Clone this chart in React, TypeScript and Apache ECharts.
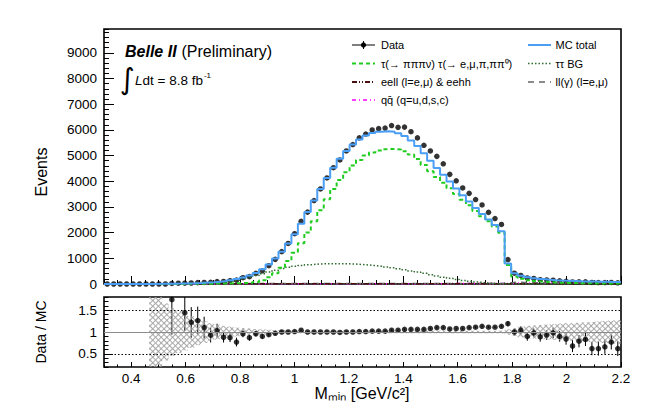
import React, { useEffect, useRef } from "react";
import * as echarts from "echarts";

// ---------- axis definitions ----------
const X_MIN = 0.3;
const X_MAX = 2.2;
const N_BINS = 80;
const Y_MAX = 9930;
const R_MIN = 0.2;
const R_MAX = 1.8;
const X_LABELS = [0.4, 0.6, 0.8, 1, 1.2, 1.4, 1.6, 1.8, 2, 2.2];
const Y_LABELS = [0, 1000, 2000, 3000, 4000, 5000, 6000, 7000, 8000, 9000];
const R_LABELS = [0.5, 1, 1.5];

// ---------- histogram contents (80 bins, 0.3 - 2.2) ----------
const MC_TOTAL = [
  0, 0, 0, 0, 0, 0, 2, 3, 5, 8,
  12, 17, 24, 32, 42, 55, 70, 90, 115, 150,
  195, 255, 330, 430, 570, 760, 990, 1260, 1580, 1940,
  2350, 2800, 3250, 3700, 4130, 4530, 4880, 5180, 5430, 5630,
  5780, 5880, 5930, 5950, 5930, 5870, 5760, 5590, 5370, 5090,
  4800, 4520, 4250, 3990, 3720, 3460, 3210, 2960, 2730, 2510,
  2300, 2050, 800, 420, 320, 260, 220, 190, 170, 150,
  135, 125, 115, 105, 100, 95, 90, 85, 80, 75,
];

const DATA = [
  0, 0, 0, 0, 0, 0, 0, 0, 0, 0,
  21, 30, 35, 39, 53, 60, 65, 93, 101, 130,
  150, 245, 287, 413, 513, 714, 960, 1260, 1580, 1960,
  2440, 2800, 3250, 3700, 4130, 4530, 4830, 5180, 5430, 5690,
  5840, 6000, 6050, 6070, 6170, 6100, 6110, 5930, 5690, 5400,
  5180, 4970, 4680, 4270, 4020, 3740, 3530, 3290, 3080, 2790,
  2550, 2320, 950, 420, 333, 234, 216, 169, 158, 147,
  122, 105, 78, 83, 83, 59, 56, 56, 62, 47,
];

const SIGNAL = [
  0, 0, 0, 0, 0, 0, 0, 0, 0, 0,
  2, 3, 5, 6, 8, 10, 14, 18, 22, 25,
  30, 40, 50, 80, 145, 265, 420, 630, 895, 1215,
  1590, 2010, 2440, 2875, 3300, 3700, 4050, 4355, 4615, 4830,
  5000, 5125, 5200, 5250, 5260, 5235, 5165, 5040, 4865, 4635,
  4395, 4165, 3945, 3730, 3500, 3280, 3065, 2845, 2640, 2440,
  2240, 2000, 740, 290, 200, 150, 115, 90, 72, 58,
  48, 42, 36, 32, 28, 25, 22, 20, 18, 16,
];

const TAUTAU_BG = [
  0, 0, 0, 0, 0, 0, 0, 0, 0, 0,
  3, 5, 8, 12, 18, 26, 37, 52, 72, 105,
  150, 200, 260, 330, 400, 470, 540, 600, 650, 690,
  720, 750, 770, 785, 790, 790, 790, 785, 775, 760,
  740, 715, 690, 660, 630, 595, 555, 510, 465, 415,
  365, 315, 265, 220, 180, 140, 105, 75, 50, 30,
  18, 10, 5, 3, 2, 2, 1, 1, 1, 1,
  0, 0, 0, 0, 0, 0, 0, 0, 0, 0,
];

const EELL = [
  0, 0, 0, 0, 0, 0, 1, 1, 1, 2,
  2, 2, 3, 3, 3, 4, 4, 5, 5, 6,
  6, 7, 7, 8, 8, 9, 9, 10, 10, 11,
  11, 12, 12, 12, 13, 13, 13, 13, 13, 13,
  13, 13, 13, 13, 12, 12, 12, 12, 11, 11,
  11, 10, 10, 10, 9, 9, 9, 8, 8, 8,
  7, 7, 6, 6, 6, 5, 5, 5, 5, 4,
  4, 4, 4, 4, 3, 3, 3, 3, 3, 3,
];

const LL_GAMMA = [
  0, 0, 0, 0, 0, 0, 1, 1, 2, 3,
  4, 5, 6, 7, 8, 9, 10, 11, 12, 13,
  14, 15, 16, 17, 18, 18, 19, 19, 20, 20,
  20, 21, 21, 21, 21, 21, 21, 21, 21, 21,
  21, 20, 20, 20, 20, 20, 20, 19, 19, 19,
  19, 18, 18, 18, 18, 17, 17, 17, 17, 17,
  16, 16, 50, 70, 60, 52, 48, 45, 42, 40,
  38, 36, 34, 32, 31, 30, 29, 28, 27, 26,
];

const QQBAR = [
  0, 0, 0, 0, 0, 0, 1, 1, 1, 1,
  2, 2, 2, 3, 3, 3, 4, 4, 5, 5,
  6, 6, 7, 7, 8, 8, 9, 9, 10, 10,
  10, 11, 11, 11, 12, 12, 12, 12, 13, 13,
  13, 13, 13, 13, 13, 13, 14, 14, 14, 14,
  14, 14, 14, 15, 15, 15, 15, 15, 15, 15,
  15, 15, 20, 35, 36, 36, 36, 35, 35, 34,
  34, 33, 33, 32, 32, 31, 31, 30, 30, 29,
];

// ---------- ratio panel ----------
const RATIO = [
  null, null, null, null, null, null, null, null, null, null,
  1.74, null, 1.44, 1.22, 1.26, 1.10, 0.93, 1.03, 0.88, 0.87,
  0.77, 0.96, 0.87, 0.96, 0.90, 0.94, 0.97, 1.00, 1.00, 1.01,
  1.04, 1.00, 1.00, 1.00, 1.00, 1.00, 0.99, 1.00, 1.00, 1.01,
  1.01, 1.02, 1.02, 1.02, 1.04, 1.04, 1.06, 1.06, 1.06, 1.06,
  1.08, 1.10, 1.10, 1.07, 1.08, 1.08, 1.10, 1.11, 1.13, 1.11,
  1.11, 1.13, 1.19, 1.00, 1.04, 0.90, 0.98, 0.89, 0.93, 0.98,
  0.90, 0.84, 0.68, 0.79, 0.83, 0.62, 0.62, 0.66, 0.77, 0.62,
];

const RATIO_ERR = [
  null, null, null, null, null, null, null, null, null, null,
  0.8, null, 0.42, 0.35, 0.32, 0.25, 0.17, 0.16, 0.12, 0.10,
  0.10, 0.08, 0.07, 0.06, 0.05, 0.04, 0.035, 0.03, 0.025, 0.02,
  0.02, 0.02, 0.02, 0.02, 0.02, 0.02, 0.02, 0.02, 0.02, 0.02,
  0.02, 0.02, 0.02, 0.02, 0.02, 0.02, 0.02, 0.02, 0.02, 0.02,
  0.02, 0.02, 0.02, 0.02, 0.02, 0.02, 0.02, 0.02, 0.02, 0.02,
  0.02, 0.02, 0.06, 0.08, 0.09, 0.10, 0.10, 0.11, 0.11, 0.12,
  0.12, 0.13, 0.14, 0.14, 0.15, 0.15, 0.16, 0.16, 0.17, 0.17,
];

const MC_REL_ERR = [
  null, null, null, null, null, null, null, 0.85, 0.8, 0.65,
  0.55, 0.48, 0.42, 0.36, 0.3, 0.25, 0.2, 0.17, 0.14, 0.12,
  0.1, 0.09, 0.08, 0.07, 0.06, 0.05, 0.045, 0.04, 0.035, 0.03,
  0.03, 0.03, 0.03, 0.03, 0.03, 0.03, 0.03, 0.03, 0.03, 0.03,
  0.03, 0.03, 0.03, 0.03, 0.03, 0.03, 0.03, 0.03, 0.03, 0.03,
  0.03, 0.03, 0.03, 0.03, 0.03, 0.03, 0.03, 0.03, 0.03, 0.03,
  0.03, 0.03, 0.06, 0.09, 0.12, 0.14, 0.15, 0.16, 0.17, 0.18,
  0.19, 0.2, 0.2, 0.21, 0.22, 0.23, 0.24, 0.25, 0.26, 0.27,
];

// ---------- derived bin geometry ----------
const BIN_W = (X_MAX - X_MIN) / N_BINS;
const EDGES = Array.from({ length: N_BINS + 1 }, (_, i) => X_MIN + i * BIN_W);
const CENTERS = EDGES.slice(0, N_BINS).map((e) => e + BIN_W / 2);
const CATS = CENTERS.map((c) => c.toFixed(4));

function stepData(vals: number[]) {
  const d: number[][] = vals.map((v, i) => [EDGES[i], v]);
  d.push([X_MAX, vals[N_BINS - 1]]);
  return d;
}

const FONT = '"Liberation Sans", Arial, Helvetica, sans-serif';

function histLine(name: string, vals: number[], color: string, width: number, type: any) {
  return {
    name,
    type: "line",
    xAxisIndex: 0,
    yAxisIndex: 0,
    step: "end",
    symbol: "none",
    silent: true,
    data: stepData(vals),
    lineStyle: { color, width, type },
  };
}

const hatch = (rot: number) => ({
  symbol: "rect",
  symbolSize: 1,
  color: "rgba(160,160,160,0.9)",
  backgroundColor: "rgba(0,0,0,0)",
  dashArrayX: [1, 0],
  dashArrayY: [1, 3],
  rotation: rot,
});

const plainNum = (v: number) => String(v);

function buildOption() {
  const baseVals = MC_REL_ERR.map((e) => (e == null ? null : 1 - e));
  const spanVals = MC_REL_ERR.map((e) => (e == null ? null : 2 * e));

  const ratioPts: number[][] = [];
  const ratioErr: number[][] = [];
  RATIO.forEach((r, i) => {
    if (r == null) return;
    ratioPts.push([CENTERS[i], r]);
    const e = RATIO_ERR[i];
    if (e != null) ratioErr.push([CENTERS[i], r, e]);
  });

  const tickBase = { lineStyle: { color: "#000", width: 1 } };

  const legendRows = [45, 63.5, 82, 100];
  const lx1 = 352, lx2 = 375, ltx = 381;
  const rx1 = 528, rx2 = 551, rtx = 555.5;
  const legText = (x: number, y: number, text: string) => ({
    type: "text",
    x,
    y,
    style: { text, fontSize: 11, fontFamily: FONT, fill: "#000", align: "left", verticalAlign: "middle" },
  });
  const legLine = (x1: number, x2: number, y: number, stroke: string, lineWidth: number, lineDash?: number[]) => ({
    type: "line",
    shape: { x1, y1: y, x2, y2: y },
    style: { stroke, lineWidth, lineDash },
  });

  return {
    animation: false,
    backgroundColor: "#fff",
    grid: [
      { left: 104, top: 29, width: 517, height: 255, show: true, borderColor: "#000", borderWidth: 1.6, backgroundColor: "rgba(0,0,0,0)" },
      { left: 104, top: 297, width: 517, height: 70, show: true, borderColor: "#000", borderWidth: 1.6, backgroundColor: "rgba(0,0,0,0)" },
    ],
    xAxis: [
      {
        gridIndex: 0, type: "value", min: X_MIN, max: X_MAX, position: "bottom",
        axisLine: { show: false, onZero: false }, splitLine: { show: false },
        axisLabel: { show: false, customValues: X_LABELS },
        axisTick: { show: true, inside: true, length: 8, customValues: X_LABELS, ...tickBase },
      },
      {
        gridIndex: 0, type: "value", min: X_MIN, max: X_MAX, interval: 0.05, position: "bottom",
        axisLine: { show: false, onZero: false }, splitLine: { show: false },
        axisLabel: { show: false },
        axisTick: { show: true, inside: true, length: 4, ...tickBase },
      },
      {
        gridIndex: 1, type: "value", min: X_MIN, max: X_MAX, position: "bottom",
        axisLine: { show: false, onZero: false }, splitLine: { show: false },
        axisLabel: { show: true, customValues: X_LABELS, formatter: plainNum, fontSize: 13.5, fontFamily: FONT, color: "#000", margin: 4 },
        axisTick: { show: true, inside: true, length: 5, customValues: X_LABELS, ...tickBase },
      },
      {
        gridIndex: 1, type: "value", min: X_MIN, max: X_MAX, interval: 0.05, position: "bottom",
        axisLine: { show: false, onZero: false }, splitLine: { show: false },
        axisLabel: { show: false },
        axisTick: { show: true, inside: true, length: 2.5, ...tickBase },
      },
      {
        gridIndex: 1, type: "category", data: CATS, show: false, boundaryGap: true, position: "bottom",
      },
    ],
    yAxis: [
      {
        gridIndex: 0, type: "value", min: 0, max: Y_MAX, position: "left",
        axisLine: { show: false, onZero: false }, splitLine: { show: false },
        axisLabel: { show: true, customValues: Y_LABELS, formatter: plainNum, fontSize: 13.5, fontFamily: FONT, color: "#000", margin: 7 },
        axisTick: { show: true, inside: true, length: 10, customValues: Y_LABELS, ...tickBase },
      },
      {
        gridIndex: 0, type: "value", min: 0, max: Y_MAX, interval: 200, position: "left",
        axisLine: { show: false, onZero: false }, splitLine: { show: false },
        axisLabel: { show: false },
        axisTick: { show: true, inside: true, length: 5, ...tickBase },
      },
      {
        gridIndex: 1, type: "value", min: R_MIN, max: R_MAX, position: "left",
        axisLine: { show: false, onZero: false }, splitLine: { show: false },
        axisLabel: { show: true, customValues: R_LABELS, formatter: plainNum, fontSize: 13.5, fontFamily: FONT, color: "#000", margin: 7 },
        axisTick: { show: true, inside: true, length: 9, customValues: R_LABELS, ...tickBase },
      },
      {
        gridIndex: 1, type: "value", min: R_MIN, max: R_MAX, interval: 0.1, position: "left",
        axisLine: { show: false, onZero: false }, splitLine: { show: false },
        axisLabel: { show: false },
        axisTick: { show: true, inside: true, length: 4.5, ...tickBase },
      },
    ],
    series: [
      histLine("qq", QQBAR, "#ff00ff", 1.5, [4, 3, 1, 3]),
      histLine("llg", LL_GAMMA, "#666666", 1.5, [6, 5]),
      histLine("eell", EELL, "#4a0f0f", 1.5, [5, 2, 1, 2, 1, 2]),
      histLine("tautau", TAUTAU_BG, "#2e6b2e", 1.5, [1.5, 2]),
      histLine("signal", SIGNAL, "#1fcc1f", 2, [4, 3]),
      histLine("mc", MC_TOTAL, "#4a9ff5", 2, "solid"),
      {
        name: "data",
        type: "scatter",
        xAxisIndex: 0,
        yAxisIndex: 0,
        symbol: "circle",
        symbolSize: 5.5,
        silent: true,
        itemStyle: { color: "#000" },
        data: DATA.map((v, i) => [CENTERS[i], v]),
      },
      // MC uncertainty band (hatched), two crossing hatch layers
      {
        type: "bar", xAxisIndex: 4, yAxisIndex: 2, stack: "a", barWidth: "100%", barGap: "-100%",
        silent: true, itemStyle: { color: "rgba(0,0,0,0)" }, data: baseVals,
      },
      {
        type: "bar", xAxisIndex: 4, yAxisIndex: 2, stack: "a", barWidth: "100%", barGap: "-100%",
        silent: true, itemStyle: { color: "rgba(0,0,0,0)", decal: hatch(Math.PI / 4) }, data: spanVals,
      },
      {
        type: "bar", xAxisIndex: 4, yAxisIndex: 2, stack: "b", barWidth: "100%", barGap: "-100%",
        silent: true, itemStyle: { color: "rgba(0,0,0,0)" }, data: baseVals,
      },
      {
        type: "bar", xAxisIndex: 4, yAxisIndex: 2, stack: "b", barWidth: "100%", barGap: "-100%",
        silent: true, itemStyle: { color: "rgba(0,0,0,0)", decal: hatch(-Math.PI / 4) }, data: spanVals,
      },
      {
        type: "custom",
        xAxisIndex: 2,
        yAxisIndex: 2,
        clip: true,
        silent: true,
        data: ratioErr,
        renderItem: (params: any, api: any) => {
          const x = api.value(0), r = api.value(1), e = api.value(2);
          const p1 = api.coord([x, r - e]);
          const p2 = api.coord([x, r + e]);
          return {
            type: "line",
            shape: { x1: p1[0], y1: p1[1], x2: p2[0], y2: p2[1] },
            style: { stroke: "#000", lineWidth: 1 },
          };
        },
      },
      {
        name: "ratio",
        type: "scatter",
        xAxisIndex: 2,
        yAxisIndex: 2,
        symbolSize: 5.5,
        silent: true,
        itemStyle: { color: "#000" },
        data: ratioPts,
        markLine: {
          silent: true,
          symbol: "none",
          label: { show: false },
          data: [
            { yAxis: 1, lineStyle: { color: "#8c8c8c", type: "solid", width: 1.2 } },
            { yAxis: 0.5, lineStyle: { color: "#000", type: [1.5, 2], width: 1 } },
            { yAxis: 1.5, lineStyle: { color: "#000", type: [1.5, 2], width: 1 } },
          ],
        },
      },
    ],
    graphic: [
      // Belle II label
      { type: "text", x: 125, y: 51, style: { text: "Belle II", fontSize: 16, fontWeight: "bold", fontStyle: "italic", fontFamily: FONT, fill: "#000", verticalAlign: "middle" } },
      { type: "text", x: 181.5, y: 51, style: { text: "(Preliminary)", fontSize: 16, fontFamily: FONT, fill: "#000", verticalAlign: "middle" } },
      { type: "text", x: 127, y: 79, style: { text: "∫", fontSize: 29, fontFamily: '"DejaVu Sans"', fill: "#000", align: "center", verticalAlign: "middle" } },
      {
        type: "text", x: 135, y: 80,
        style: {
          text: "{it|L}{n|dt = 8.8 fb}{sup|-1}",
          fontFamily: FONT, fill: "#000", verticalAlign: "middle",
          rich: {
            it: { fontSize: 13.5, fontStyle: "italic", fontFamily: FONT, lineHeight: 18, verticalAlign: "middle" },
            n: { fontSize: 13.5, fontFamily: FONT, lineHeight: 18, verticalAlign: "middle" },
            sup: { fontSize: 8, fontFamily: FONT, lineHeight: 8, verticalAlign: "top", padding: [0, 0, 0, 1] },
          },
        },
      },

      // legend
      legLine(lx1, lx2, legendRows[0], "#000", 1),
      { type: "line", shape: { x1: 363.5, y1: legendRows[0] - 4, x2: 363.5, y2: legendRows[0] + 4 }, style: { stroke: "#000", lineWidth: 1 } },
      { type: "circle", shape: { cx: 363.5, cy: legendRows[0], r: 2.6 }, style: { fill: "#000" } },
      legText(ltx, legendRows[0], "Data"),
      legLine(rx1, rx2, legendRows[0], "#4a9ff5", 2),
      legText(rtx, legendRows[0], "MC total"),

      legLine(lx1, lx2, legendRows[1], "#1fcc1f", 2, [4, 3]),
      legText(ltx, legendRows[1], "τ(→ πππν) τ(→ e,μ,π,ππ⁰)"),
      legLine(rx1, rx2, legendRows[1], "#2e6b2e", 1.5, [1.5, 2]),
      legText(rtx, legendRows[1], "ττ BG"),

      legLine(lx1, lx2, legendRows[2], "#4a0f0f", 2, [5, 2, 1, 2, 1, 2]),
      legText(ltx, legendRows[2], "eell (l=e,μ) & eehh"),
      legLine(rx1, rx2, legendRows[2], "#666666", 1.5, [6, 5]),
      legText(rtx, legendRows[2], "ll(γ) (l=e,μ)"),

      legLine(lx1, lx2, legendRows[3], "#ff00ff", 1.5, [4, 3, 1, 3]),
      legText(ltx, legendRows[3], "qq̄ (q=u,d,s,c)"),

      // axis titles
      { type: "text", x: 41, y: 172, rotation: Math.PI / 2, style: { text: "Events", fontSize: 16, fontFamily: FONT, fill: "#000", align: "center", verticalAlign: "middle" } },
      { type: "text", x: 41, y: 332, rotation: Math.PI / 2, style: { text: "Data / MC", fontSize: 14, fontFamily: FONT, fill: "#000", align: "center", verticalAlign: "middle" } },
      { type: "text", x: 362, y: 393, style: { text: "Mₘᵢₙ [GeV/c²]", fontSize: 16, fontFamily: FONT, fill: "#000", align: "center", verticalAlign: "middle" } },
    ],
  };
}

export default function App() {
  const ref = useRef<HTMLDivElement>(null);
  useEffect(() => {
    document.body.style.margin = "0";
    const chart = echarts.init(ref.current as HTMLDivElement, null, { renderer: "svg" });
    chart.setOption(buildOption() as any);
    return () => chart.dispose();
  }, []);
  return <div ref={ref} style={{ width: 654, height: 418 }} />;
}
